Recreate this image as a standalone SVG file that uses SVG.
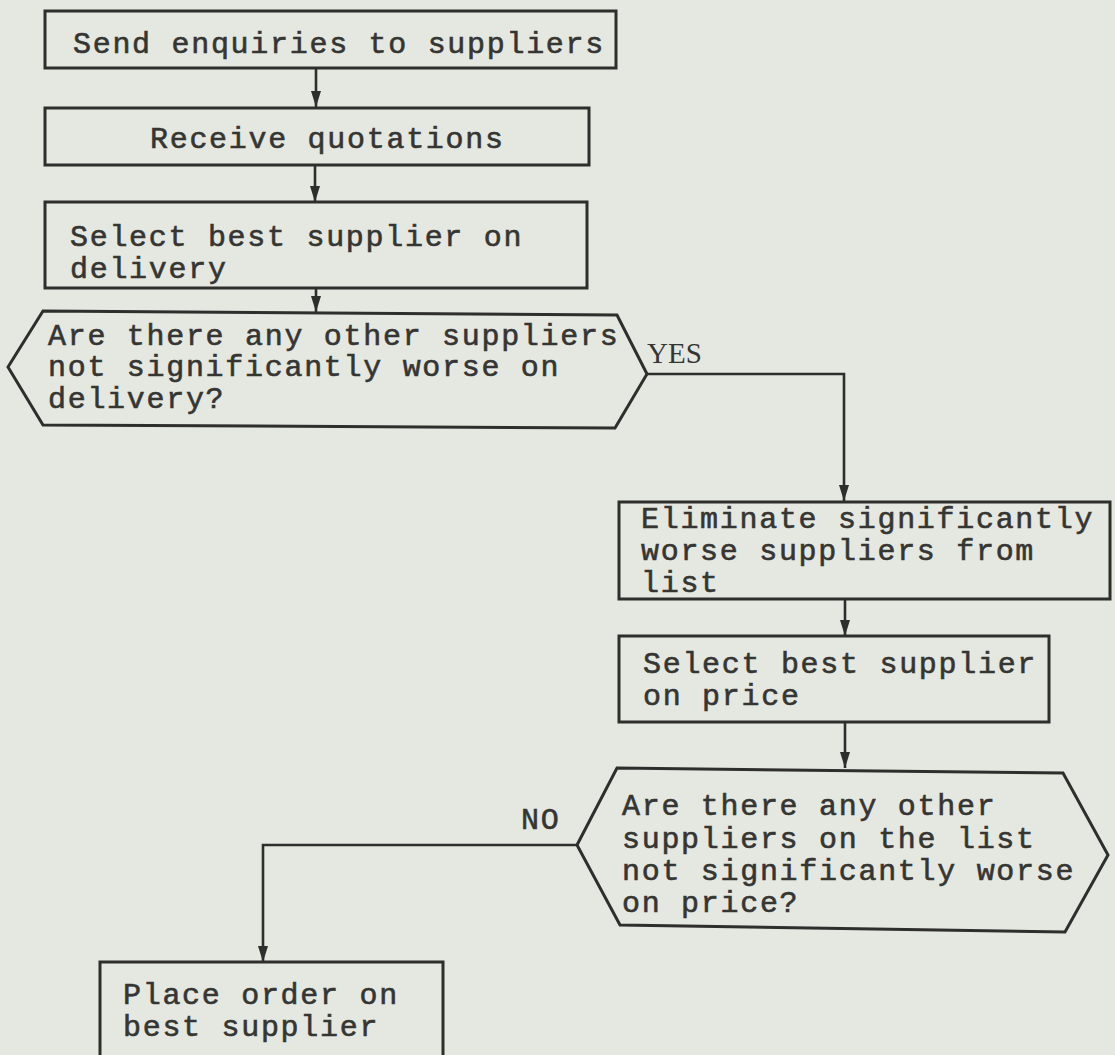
<svg xmlns="http://www.w3.org/2000/svg" width="1115" height="1055" viewBox="0 0 1115 1055">
  <style>
    .bg { fill: #e5e7e1; }
    .shape { fill: none; stroke: #2e2e2c; stroke-width: 3; stroke-linejoin: miter; }
    .link { fill: none; stroke: #2e2e2c; stroke-width: 2.6; }
    .t { font-family: "Liberation Mono", "Courier New", monospace; font-size: 30px; letter-spacing: 1.7px; fill: #353532; stroke: #353532; stroke-width: 0.6; }
    .lbl { font-family: "Liberation Serif", "Times New Roman", serif; font-size: 29px; fill: #353532; }
  </style>
  <defs>
    <!-- small filled arrowhead, tip at the end of the line -->
    <marker id="arrow" viewBox="0 0 16 10" refX="16" refY="5" markerWidth="16" markerHeight="10" markerUnits="userSpaceOnUse" orient="auto">
      <path d="M0,0 L16,5 L0,10 Z" fill="#2e2e2c"/>
    </marker>
  </defs>

  <rect class="bg" x="0" y="0" width="1115" height="1055"/>

  <!-- connectors -->
  <g id="connectors">
    <line class="link" x1="316" y1="68" x2="316" y2="107" marker-end="url(#arrow)"/>
    <line class="link" x1="315" y1="165" x2="315" y2="202" marker-end="url(#arrow)"/>
    <line class="link" x1="316" y1="288" x2="316" y2="312" marker-end="url(#arrow)"/>
    <polyline class="link" points="647,374 844,374 844,501" marker-end="url(#arrow)"/>
    <line class="link" x1="845" y1="599" x2="845" y2="636" marker-end="url(#arrow)"/>
    <line class="link" x1="845" y1="722" x2="845" y2="768" marker-end="url(#arrow)"/>
    <polyline class="link" points="577,845 263,845 263,962" marker-end="url(#arrow)"/>
    <text class="lbl" x="647" y="363">YES</text>
    <text class="t" x="521" y="829">NO</text>
  </g>

  <g id="send-enquiries">
    <rect class="shape" x="45" y="11" width="571" height="57"/>
    <text class="t" x="73" y="53">Send enquiries to suppliers</text>
  </g>

  <g id="receive-quotations">
    <rect class="shape" x="45" y="108" width="544" height="57"/>
    <text class="t" x="150" y="148">Receive quotations</text>
  </g>

  <g id="select-delivery">
    <rect class="shape" x="45" y="202" width="542" height="86"/>
    <text class="t" x="70" y="246">Select best supplier on</text>
    <text class="t" x="70" y="278">delivery</text>
  </g>

  <g id="decision-delivery">
    <polygon class="shape" points="8,367 43,311 617,315 647,374 615,428 43,425"/>
    <text class="t" x="48" y="345">Are there any other suppliers</text>
    <text class="t" x="48" y="376">not significantly worse on</text>
    <text class="t" x="48" y="408">delivery?</text>
  </g>

  <g id="eliminate">
    <rect class="shape" x="619" y="502" width="491" height="97"/>
    <text class="t" x="641" y="528">Eliminate significantly</text>
    <text class="t" x="641" y="560">worse suppliers from</text>
    <text class="t" x="641" y="592">list</text>
  </g>

  <g id="select-price">
    <rect class="shape" x="619" y="636" width="430" height="86"/>
    <text class="t" x="643" y="673">Select best supplier</text>
    <text class="t" x="643" y="705">on price</text>
  </g>

  <g id="decision-price">
    <polygon class="shape" points="577,845 617,768 1063,773 1108,855 1065,932 620,925"/>
    <text class="t" x="622" y="815">Are there any other</text>
    <text class="t" x="622" y="848">suppliers on the list</text>
    <text class="t" x="622" y="880">not significantly worse</text>
    <text class="t" x="622" y="912">on price?</text>
  </g>

  <g id="place-order">
    <polyline class="shape" points="100,1070 100,962 443,962 443,1070"/>
    <text class="t" x="123" y="1004">Place order on</text>
    <text class="t" x="123" y="1036">best supplier</text>
  </g>
</svg>
